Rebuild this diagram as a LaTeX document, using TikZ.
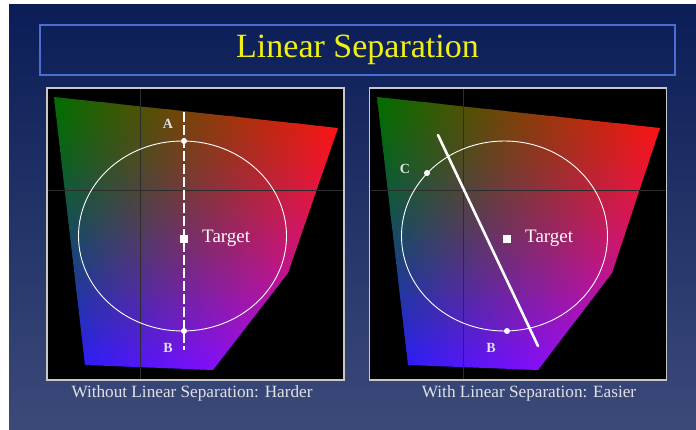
\documentclass[tikz,border=0pt]{standalone}
\usepackage{fontspec}
\setmainfont{Liberation Serif}
\definecolor{bgtop}{RGB}{11,29,87}
\definecolor{bgbot}{RGB}{59,74,121}
\definecolor{titleyellow}{RGB}{240,240,20}
\definecolor{boxblue}{RGB}{74,110,210}
\definecolor{panelgrey}{RGB}{200,200,200}
\definecolor{tlc}{RGB}{0,110,0}
\definecolor{trc}{RGB}{255,20,10}
\definecolor{blc}{RGB}{25,30,255}
\definecolor{brc}{RGB}{215,0,250}
\definecolor{capgrey}{RGB}{225,225,230}
\definecolor{crossgrey}{RGB}{45,45,45}
\tikzset{
  panelbox/.style={draw=panelgrey, line width=1.2pt, fill=black, minimum width=297pt, minimum height=292pt, inner sep=0pt},
  caption/.style={text=capgrey, font=\fontsize{17.2}{20}\selectfont, inner sep=0pt},
  ptlabel/.style={text=capgrey, font=\fontsize{14}{16}\selectfont\bfseries, inner sep=0pt},
  targetlabel/.style={text=white!93!pink, font=\fontsize{19}{22}\selectfont, inner sep=0pt, anchor=west},
  dot/.style={circle, fill=white, minimum size=6pt, inner sep=0pt},
  targetsq/.style={rectangle, fill=white, minimum size=8pt, inner sep=0pt},
  crossline/.style={draw=crossgrey, line width=0.9pt},
  ring/.style={draw=white, line width=0.9pt},
}
\begin{document}
\begin{tikzpicture}[x=1pt,y=-1pt]
\useasboundingbox (0,0) rectangle (696,430);
\fill[white] (0,0) rectangle (696,430);
\shade[top color=bgtop, bottom color=bgbot] (9,5) rectangle (696,430);
% title
\node[draw=boxblue, line width=1.6pt, minimum width=635pt, minimum height=50pt, inner sep=0pt,
      text=titleyellow, font=\fontsize{34}{38}\selectfont] (title) at (357.5,50) {Linear Separation};
% panels
\node[panelbox] (panelL) at (195.5,234) {};
\node[panelbox] (panelR) at (518,234) {};
% left colour patch
\begin{scope}
\clip (54,97) -- (338,128) -- (288,273) -- (213,370) -- (85,365) -- cycle;
\foreach \i in {0,...,39} {
  \pgfmathtruncatemacro\p{100*(1-(\i/39)^1.4)}
  \colorlet{Lc}{tlc!\p!blc}\colorlet{Rc}{trc!\p!brc}\colorlet{Mc}{Lc!50!Rc!85!black}
  \fill[left color=Lc, middle color=Mc, right color=Rc] (52,{96+\i*7}) rectangle (340,{96+\i*7+7.6});
}
\end{scope}
% right colour patch
\begin{scope}
\clip (377,97) -- (660,128) -- (612,273) -- (538,370) -- (408,365) -- cycle;
\foreach \i in {0,...,39} {
  \pgfmathtruncatemacro\p{100*(1-(\i/39)^1.4)}
  \colorlet{Lc}{tlc!\p!blc}\colorlet{Rc}{trc!\p!brc}\colorlet{Mc}{Lc!50!Rc!85!black}
  \fill[left color=Lc, middle color=Mc, right color=Rc] (375,{96+\i*7}) rectangle (663,{96+\i*7+7.6});
}
\end{scope}
% crosshair lines
\coordinate (lv1) at (140,89); \coordinate (lv2) at (140,379);
\coordinate (lh1) at (48,190); \coordinate (lh2) at (343,190);
\coordinate (rv1) at (463,89); \coordinate (rv2) at (463,379);
\coordinate (rh1) at (371,190); \coordinate (rh2) at (665,190);
\draw[crossline] (lv1) -- (lv2);
\draw[crossline] (lh1) -- (lh2);
\draw[crossline] (rv1) -- (rv2);
\draw[crossline] (rh1) -- (rh2);
% circles
\draw[ring] (182.5,236) ellipse [x radius=104, y radius=95];
\draw[ring] (504.5,236) ellipse [x radius=103, y radius=95];
% left panel marks
\coordinate (Ltop) at (184,112);
\coordinate (Lbot) at (184,350);
\draw[white, line width=2.6pt, dash pattern=on 10pt off 3pt] (Ltop) -- (Lbot);
\node[dot] (dA) at (184,141) {};
\node[dot] (dB) at (184,331) {};
\node[targetsq] (tL) at (184,239) {};
\node[targetlabel] (tLlab) at (202,238) {Target};
\node[ptlabel] (lA) at (168,124) {A};
\node[ptlabel] (lB) at (168,348) {B};
% right panel marks
\coordinate (Rtop) at (438,135);
\coordinate (Rbot) at (538,346);
\draw[white, line width=2.6pt, line cap=round] (Rtop) -- (Rbot);
\node[dot] (dC) at (427,173) {};
\node[dot] (dB2) at (507,331) {};
\node[targetsq] (tR) at (507,239) {};
\node[targetlabel] (tRlab) at (525,238) {Target};
\node[ptlabel] (lC) at (405,169) {C};
\node[ptlabel] (lB2) at (491,348) {B};
% captions
\node[caption] (capL) at (192,393) {Without Linear Separation: Harder};
\node[caption] (capR) at (529,393) {With Linear Separation: Easier};
\end{tikzpicture}
\end{document}
